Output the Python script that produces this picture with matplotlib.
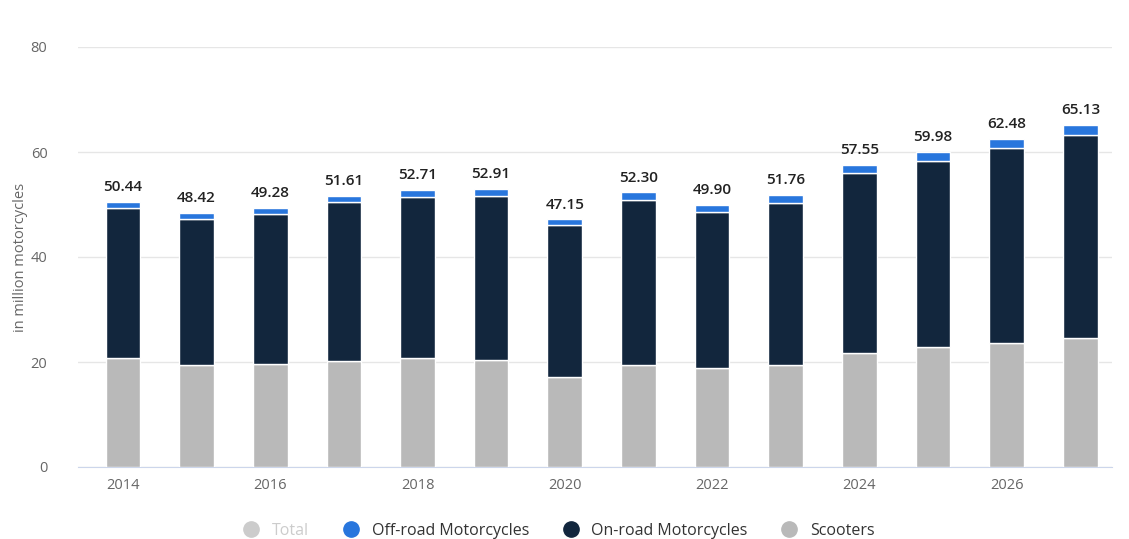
import matplotlib
matplotlib.use("Agg")
import matplotlib.pyplot as plt
from matplotlib.lines import Line2D

years = list(range(2014, 2028))
totals = [50.44, 48.42, 49.28, 51.61, 52.71, 52.91, 47.15, 52.30, 49.90, 51.76, 57.55, 59.98, 62.48, 65.13]
scooters = [20.8, 19.4, 19.6, 20.2, 20.8, 20.4, 17.1, 19.4, 18.9, 19.4, 21.7, 22.9, 23.6, 24.6]
offroad = [1.2, 1.2, 1.1, 1.2, 1.2, 1.2, 1.1, 1.4, 1.4, 1.5, 1.5, 1.6, 1.7, 1.8]
onroad = [t - s - o for t, s, o in zip(totals, scooters, offroad)]

c_scoot = "#b9b9b9"
c_on = "#12263d"
c_off = "#2876dd"

plt.rcParams['font.family'] = ['Open Sans', 'DejaVu Sans']

fig = plt.figure(figsize=(11.29, 5.39), dpi=100)
ax = fig.add_axes([78 / 1129, 72 / 539, (1112 - 78) / 1129, 420 / 539])

w = 0.47
ax.bar(years, scooters, w, color=c_scoot, edgecolor="white", linewidth=1, zorder=3)
ax.bar(years, onroad, w, bottom=scooters, color=c_on, edgecolor="white", linewidth=1, zorder=3)
bott = [s + o for s, o in zip(scooters, onroad)]
ax.bar(years, offroad, w, bottom=bott, color=c_off, edgecolor="white", linewidth=1, zorder=3)

for x, t in zip(years, totals):
    ax.text(x, t + 1.5, f"{t:.2f}", ha="center", va="bottom", fontsize=11,
            fontweight="semibold", color="#222222")

ax.set_ylim(0, 80)
ax.set_xlim(2014 - 0.61, 2027 + 0.43)
ax.set_yticks([0, 20, 40, 60, 80])
ax.set_xticks(range(2014, 2028, 2))
ax.grid(axis="y", color="#e6e6e6", linewidth=1, zorder=0)
for s in ["top", "right", "left"]:
    ax.spines[s].set_visible(False)
ax.spines["bottom"].set_color("#ccd6eb")
ax.tick_params(axis="both", length=0, labelsize=10.5, colors="#666666")
ax.tick_params(axis="y", pad=22)
ax.tick_params(axis="x", pad=8)
ax.set_ylabel("in million motorcycles", fontsize=10.5, color="#666666", labelpad=2)

handles = [
    Line2D([], [], marker="o", linestyle="", markersize=11, color="#cccccc"),
    Line2D([], [], marker="o", linestyle="", markersize=11, color=c_off),
    Line2D([], [], marker="o", linestyle="", markersize=11, color=c_on),
    Line2D([], [], marker="o", linestyle="", markersize=11, color=c_scoot),
]
leg = fig.legend(handles, ["Total", "Off-road Motorcycles", "On-road Motorcycles", "Scooters"],
                 loc="center", bbox_to_anchor=(555 / 1129, 1 - 531 / 539), ncol=4,
                 frameon=False, fontsize=11.5, handletextpad=0.3, columnspacing=1.6)
for i, txt in enumerate(leg.get_texts()):
    txt.set_color("#cccccc" if i == 0 else "#333333")

fig.savefig("out.png", dpi=100)
